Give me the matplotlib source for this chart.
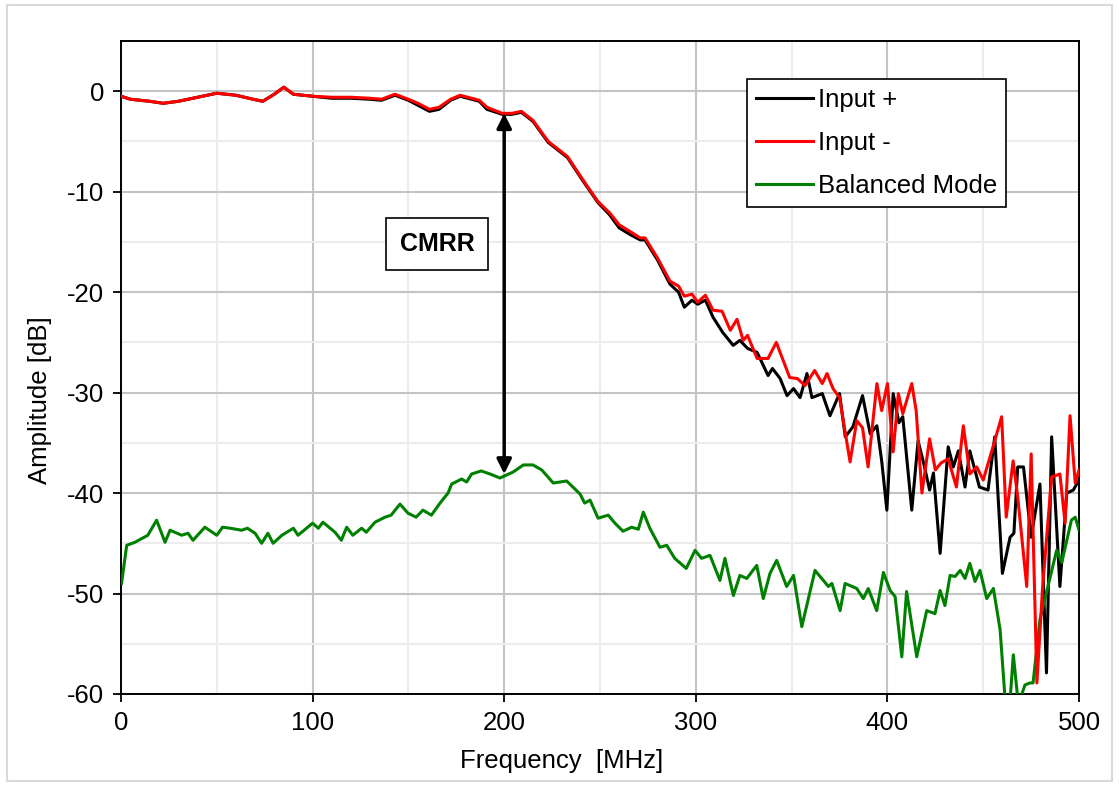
import matplotlib
matplotlib.use("Agg")
import matplotlib.pyplot as plt
from matplotlib.patches import Rectangle
from matplotlib.ticker import MultipleLocator

# --- data (frequency in MHz, amplitude in dB) ---
plus_f = [0, 5, 10, 15, 22, 30, 40, 50, 60, 69, 74, 80, 85, 90, 100, 110, 120, 130, 136,
          143, 150, 155, 161, 166, 172, 177, 183, 187, 191, 199, 204, 209, 215, 223, 233,
          241, 249, 255, 260, 266, 271, 273.5, 280, 286.5, 291, 294, 298, 301, 305, 309,
          314, 319.5, 323, 327, 332, 337.7, 340, 344, 347.6, 351, 354.4, 358, 360.6, 366,
          370, 375, 378, 382, 387, 391, 394.5, 397, 399.7, 403, 406, 408, 412.7, 416,
          419, 422, 424, 427.5, 431.7, 434.4, 437, 440.5, 443, 448, 452.5, 456, 460, 464,
          466, 468, 471, 475, 479.6, 483, 485.7, 490, 493.6, 497, 500]
plus_db = [-0.5, -0.8, -0.9, -1.0, -1.2, -1.0, -0.6, -0.2, -0.4, -0.8, -1.0, -0.3, 0.4,
           -0.3, -0.5, -0.7, -0.7, -0.8, -0.9, -0.4, -0.9, -1.4, -2.0, -1.8, -0.9, -0.5,
           -0.8, -1.0, -1.8, -2.3, -2.3, -2.1, -3.0, -5.1, -6.6, -8.9, -11.1, -12.3, -13.6,
           -14.3, -14.8, -14.8, -16.8, -19.2, -20.0, -21.5, -20.8, -21.2, -20.8, -22.5,
           -24.0, -25.3, -24.8, -25.6, -26.0, -28.3, -27.6, -28.6, -30.3, -29.6, -30.5,
           -28.1, -30.5, -30.1, -32.3, -30.1, -34.4, -33.4, -30.3, -34.1, -33.3, -36.8,
           -41.7, -30.1, -33.0, -32.4, -41.7, -34.8, -37.1, -39.7, -38.0, -46.0, -35.4,
           -37.4, -35.8, -39.4, -35.8, -39.4, -39.7, -34.4, -48.0, -44.4, -44.0, -37.4,
           -37.4, -44.4, -39.1, -57.9, -34.4, -49.3, -40.0, -39.7, -38.7]

minus_f = [0, 5, 10, 15, 22, 30, 40, 50, 60, 69, 74, 80, 85, 90, 100, 110, 120, 130, 136,
           143, 150, 155, 161, 166, 172, 177, 183, 187, 191, 199, 204, 209, 215, 223, 233,
           241, 249, 255, 260, 266, 271, 273.5, 280, 286.5, 291, 294, 298, 301, 305, 309,
           313.7, 318, 321.5, 324.7, 327, 332, 337.7, 342, 349, 353, 357, 362, 366, 368.5,
           371.6, 375, 380.5, 384, 387, 389.9, 394.5, 397, 400, 403, 405.7, 408, 412.7,
           415, 418, 422, 425, 428, 431.7, 436, 439.6, 443, 446.6, 450, 456, 459.6, 462,
           465.6, 468, 472.7, 475, 478, 481, 485.7, 490, 492.7, 495.3, 498, 500]
minus_db = [-0.5, -0.8, -0.9, -1.0, -1.2, -1.0, -0.6, -0.2, -0.4, -0.8, -1.0, -0.3, 0.4,
            -0.3, -0.5, -0.6, -0.6, -0.7, -0.8, -0.3, -0.8, -1.2, -1.8, -1.6, -0.8, -0.4,
            -0.7, -0.9, -1.6, -2.2, -2.2, -2.0, -2.9, -5.0, -6.5, -8.8, -11.0, -12.1, -13.3,
            -14.0, -14.6, -14.6, -16.6, -18.9, -19.4, -20.4, -20.2, -21.0, -20.3, -21.8,
            -21.9, -23.8, -22.7, -24.8, -24.3, -26.6, -26.6, -25.0, -28.5, -28.6, -29.3,
            -27.8, -29.1, -28.1, -29.6, -30.5, -36.9, -32.8, -33.5, -37.4, -29.1, -31.8,
            -29.1, -35.9, -30.1, -32.1, -29.1, -31.8, -40.0, -34.6, -37.7, -37.0, -36.6,
            -39.4, -33.3, -38.1, -37.4, -38.7, -34.8, -32.4, -42.4, -36.8, -40.4, -49.3,
            -36.1, -58.9, -49.3, -38.4, -38.1, -43.0, -32.3, -39.0, -37.7]

bal_f = [0.3, 3, 7.3, 14, 18.6, 23, 25.6, 31.7, 35, 37.6, 43.8, 50, 53, 57, 63, 66, 70,
         73.4, 76.7, 79.4, 84, 90, 92.4, 100, 103, 105.4, 111.7, 115, 117.8, 121, 125.6,
         128, 132.6, 137.8, 141, 145.6, 149.8, 154, 157.6, 162, 166.5, 170.7, 172.6, 177.8,
         180.4, 183, 188, 192.6, 197.8, 204.7, 210, 215, 219.6, 225.6, 232.6, 239.6, 242,
         244.8, 249, 254.3, 257.8, 262, 266.5, 270, 272.6, 276, 281.3, 284.8, 289, 295,
         299.6, 303, 307.4, 312.6, 315.2, 319.6, 323, 326.6, 331.8, 335.2, 338.7, 342.2,
         347.4, 351, 355.3, 362.2, 369.2, 371, 375.3, 377.9, 384, 387.4, 390, 394.4, 397.9,
         401.4, 404, 407.5, 410, 415.3, 420.5, 424.8, 427.5, 430, 432.7, 435.3, 438, 440.5,
         443, 445.7, 448.3, 451.8, 455.3, 458.8, 461.4, 463.5, 465.7, 468.3, 471.8, 474.4,
         476, 479.6, 485, 488.3, 491, 496, 498, 500]
bal_db = [-49.0, -45.2, -44.9, -44.2, -42.7, -44.9, -43.7, -44.2, -44.0, -44.7, -43.4,
          -44.2, -43.4, -43.5, -43.7, -43.5, -44.0, -45.0, -44.0, -45.0, -44.2, -43.5, -44.2,
          -43.0, -43.5, -42.9, -43.9, -44.7, -43.4, -44.2, -43.5, -43.9, -42.9, -42.4, -42.2,
          -41.1, -42.0, -42.4, -41.7, -42.2, -41.0, -40.0, -39.1, -38.6, -38.9, -38.1, -37.8,
          -38.1, -38.5, -37.9, -37.2, -37.2, -37.7, -39.0, -38.8, -40.1, -41.0, -40.7, -42.5,
          -42.2, -43.0, -43.8, -43.4, -43.6, -41.9, -43.5, -45.4, -45.2, -46.5, -47.5, -45.7,
          -46.5, -46.2, -48.7, -46.5, -50.2, -48.2, -48.5, -47.2, -50.5, -48.0, -46.7, -49.3,
          -48.2, -53.3, -47.7, -49.3, -49.0, -51.7, -49.0, -49.5, -50.5, -49.5, -51.7, -47.9,
          -49.7, -50.3, -56.3, -49.8, -56.3, -51.7, -52.0, -49.7, -51.2, -48.2, -48.3, -47.7,
          -48.5, -47.0, -48.8, -47.7, -50.5, -49.5, -53.6, -60.5, -62.0, -56.1, -61.0, -59.1,
          -58.9, -58.9, -52.6, -48.3, -45.7, -46.9, -42.7, -42.4, -43.7]

plt.rcParams["font.family"] = ["Liberation Sans", "DejaVu Sans"]
plt.rcParams["axes.unicode_minus"] = False

fig = plt.figure(figsize=(11.19, 7.87), dpi=100)
ax = fig.add_axes([0.1081, 0.1182, 0.8562, 0.8297])

# light grey frame around the whole chart
fig.patches.append(Rectangle((0.006, 0.008), 0.988, 0.986, transform=fig.transFigure,
                             fill=False, edgecolor="#d9d9d9", linewidth=1.5))

ax.plot(plus_f, plus_db, color="black", lw=2.2, label="Input +", zorder=3)
ax.plot(minus_f, minus_db, color="#ff0000", lw=2.2, label="Input -", zorder=4)
ax.plot(bal_f, bal_db, color="#008000", lw=2.2, label="Balanced Mode", zorder=3)

ax.set_xlim(0, 500)
ax.set_ylim(-60, 5)
ax.xaxis.set_major_locator(MultipleLocator(100))
ax.xaxis.set_minor_locator(MultipleLocator(50))
ax.yaxis.set_major_locator(MultipleLocator(10))
ax.yaxis.set_minor_locator(MultipleLocator(5))
ax.set_yticks([0, -10, -20, -30, -40, -50, -60])
ax.grid(True, which="major", color="#c4c4c4", lw=1.5, zorder=0)
ax.grid(True, which="minor", color="#ececec", lw=1.5, zorder=0)
ax.set_axisbelow(True)
ax.tick_params(which="major", direction="out", length=6, width=1.3, labelsize=18.5, pad=6)
ax.tick_params(which="minor", length=0)
for s in ax.spines.values():
    s.set_linewidth(1.4)
    s.set_color("black")

ax.set_xlabel("Frequency  [MHz]", fontsize=18.5)
ax.set_ylabel("Amplitude [dB]", fontsize=18.5)
ax.xaxis.set_label_coords(0.46, -0.084)
ax.yaxis.set_label_coords(-0.072, 0.45)

# CMRR arrow and label
ax.annotate("", xy=(200, -2.2), xytext=(200, -38.1),
            arrowprops=dict(arrowstyle="<|-|>", color="black", lw=2.5, mutation_scale=22,
                            shrinkA=0, shrinkB=0), zorder=5)
ax.text(165, -15.2, "CMRR", fontsize=18, fontweight="bold", ha="center", va="center",
        bbox=dict(boxstyle="square,pad=0.55", fc="white", ec="black", lw=1.2), zorder=6)

leg = ax.legend(loc="upper right", bbox_to_anchor=(0.924, 0.942), fontsize=18.5,
                frameon=True, fancybox=False, edgecolor="black", framealpha=1,
                handlelength=2.2, handletextpad=0.2, borderpad=0.35, labelspacing=0.75,
                borderaxespad=0)
leg.get_frame().set_linewidth(1.2)

fig.savefig("out.png", dpi=100)
